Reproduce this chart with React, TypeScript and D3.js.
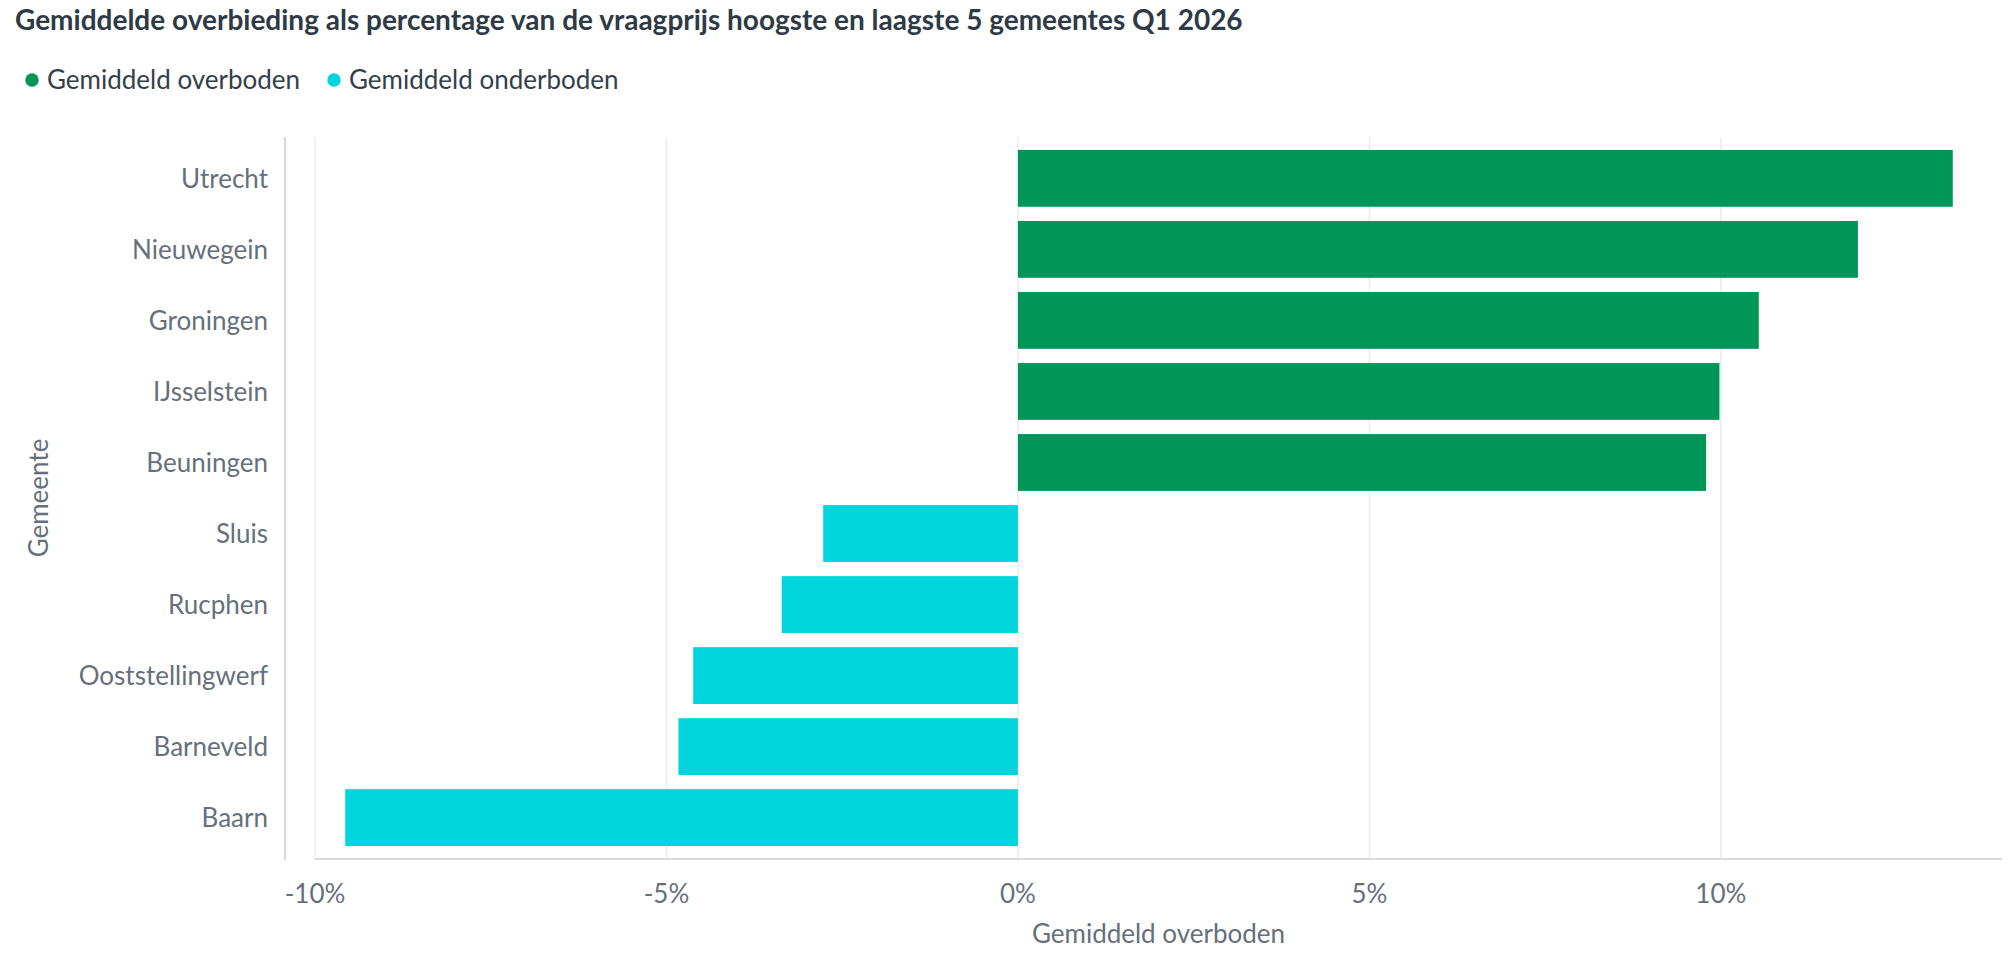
import React, { useEffect, useRef } from "react";
import * as d3 from "d3";

// gemeenten van boven naar onder
const gemeenten = [
    "Utrecht",
    "Nieuwegein",
    "Groningen",
    "IJsselstein",
    "Beuningen",
    "Sluis",
    "Rucphen",
    "Ooststellingwerf",
    "Barneveld",
    "Baarn",
];

// gemiddelde overbieding in procenten (negatief = onderboden)
const overbieding = [13.3, 11.95, 10.54, 9.98, 9.79, -2.77, -3.36, -4.62, -4.83, -9.57];

const seriesNames = ["Gemiddeld overboden", "Gemiddeld onderboden"];
const seriesColors = ["#00965a", "#00d4dc"];

const xTicks = [-10, -5, 0, 5, 10];
const xDomain = [-10, 14];

const title = "Gemiddelde overbieding als percentage van de vraagprijs hoogste en laagste 5 gemeentes Q1 2026";
const xTitle = "Gemiddeld overboden";
const yTitle = "Gemeente";

const WIDTH = 2014;
const HEIGHT = 964;

const App: React.FC = () => {
    const svgRef = useRef<SVGSVGElement>(null);

    useEffect(() => {
        if (!svgRef.current) return;

        const margin = { top: 137, right: 12, bottom: 105, left: 315 };
        const font = "Lato, 'Noto Sans', sans-serif";
        const labelSize = 26;

        const svg = d3.select(svgRef.current);
        svg.selectAll("*").remove();
        svg.attr("width", WIDTH).attr("height", HEIGHT);

        const x = d3.scaleLinear()
            .domain(xDomain)
            .range([margin.left, WIDTH - margin.right]);

        const y = d3.scaleBand()
            .domain(gemeenten)
            .range([margin.top, HEIGHT - margin.bottom])
            .paddingInner(0.2)
            .paddingOuter(0.1825);

        const plotBottom = HEIGHT - margin.bottom;

        // title
        svg.append("text")
            .attr("x", 15)
            .attr("y", 30)
            .attr("font-family", font)
            .attr("font-weight", 700)
            .attr("font-size", 28)
            .attr("fill", "#2e3a45")
            .text(title);

        // legend
        const legendX = [32, 334];
        seriesNames.forEach((name, i) => {
            const item = svg.append("g").attr("transform", `translate(${legendX[i]},80)`);
            item.append("circle")
                .attr("r", 6.7)
                .attr("fill", seriesColors[i]);
            item.append("text")
                .attr("x", 15)
                .attr("y", 9)
                .attr("font-family", font)
                .attr("font-size", labelSize)
                .attr("fill", "#333f4a")
                .text(name);
        });

        // grid
        svg.append("g")
            .selectAll("line")
            .data(xTicks)
            .enter()
            .append("line")
            .attr("x1", d => x(d))
            .attr("x2", d => x(d))
            .attr("y1", margin.top)
            .attr("y2", plotBottom)
            .attr("stroke", "#ececec")
            .attr("stroke-width", 1.5);

        // bars
        svg.append("g")
            .selectAll("rect")
            .data(overbieding)
            .enter()
            .append("rect")
            .attr("x", d => x(Math.min(0, d)))
            .attr("y", (_, i) => y(gemeenten[i]) || 0)
            .attr("width", d => Math.abs(x(d) - x(0)))
            .attr("height", y.bandwidth())
            .attr("fill", d => (d >= 0 ? seriesColors[0] : seriesColors[1]));

        // axis lines
        svg.append("line")
            .attr("x1", margin.left)
            .attr("x2", WIDTH - margin.right)
            .attr("y1", plotBottom)
            .attr("y2", plotBottom)
            .attr("stroke", "#d9d9d9")
            .attr("stroke-width", 2);

        svg.append("line")
            .attr("x1", 285)
            .attr("x2", 285)
            .attr("y1", margin.top)
            .attr("y2", plotBottom + 1)
            .attr("stroke", "#d9d9d9")
            .attr("stroke-width", 2);

        // x tick labels
        svg.append("g")
            .selectAll("text")
            .data(xTicks)
            .enter()
            .append("text")
            .attr("x", d => x(d))
            .attr("y", plotBottom + 44)
            .attr("text-anchor", "middle")
            .attr("font-family", font)
            .attr("font-size", labelSize)
            .attr("fill", "#66707a")
            .text(d => `${d}%`);

        // y category labels
        svg.append("g")
            .selectAll("text")
            .data(gemeenten)
            .enter()
            .append("text")
            .attr("x", 268)
            .attr("y", d => (y(d) || 0) + y.bandwidth() / 2)
            .attr("dy", "0.36em")
            .attr("text-anchor", "end")
            .attr("font-family", font)
            .attr("font-size", labelSize)
            .attr("fill", "#66707a")
            .text(d => d);

        // axis titles
        svg.append("text")
            .attr("x", (margin.left + WIDTH - margin.right) / 2)
            .attr("y", 943)
            .attr("text-anchor", "middle")
            .attr("font-family", font)
            .attr("font-size", labelSize)
            .attr("fill", "#66707a")
            .text(xTitle);

        svg.append("text")
            .attr("transform", `translate(48,${(margin.top + plotBottom) / 2}) rotate(-90)`)
            .attr("text-anchor", "middle")
            .attr("font-family", font)
            .attr("font-size", labelSize)
            .attr("fill", "#66707a")
            .text(yTitle);
    }, []);

    return (
        <div style={{ position: "absolute", left: 0, top: 0, width: WIDTH, height: HEIGHT, background: "#fff" }}>
            <svg ref={svgRef} style={{ display: "block" }}></svg>
        </div>
    );
};

export default App;
